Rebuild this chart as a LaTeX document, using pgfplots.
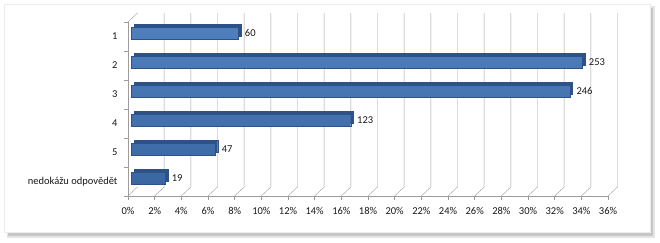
\documentclass[border=0pt]{standalone}
\usepackage{pgfplots}
\pgfplotsset{compat=1.18}
\usepackage{pgfplotstable}
\usepackage{fontspec}
\setmainfont{Carlito}
\definecolor{bartop}{HTML}{4F7FBD}
\definecolor{barbot}{HTML}{3A67A2}
\definecolor{barside}{HTML}{2E5288}
\definecolor{gridc}{HTML}{9C9C9C}
\pgfplotstableread{
idx pct count
0 8.02 60
1 33.82 253
2 32.89 246
3 16.44 123
4 6.28 47
5 2.54 19
}\datatab
\begin{document}
\begin{tikzpicture}[x=1bp,y=1bp]
\useasboundingbox (0,0) rectangle (660,242);
\fill[gray!20] (7,4) rectangle (655,236);
\fill[gray!45] (8,6) rectangle (653,234);
\fill[white] (4,10) rectangle (650,238);
\draw[gray!15] (4,10) rectangle (650,238);
\begin{axis}[
 at={(128bp,46bp)}, anchor=south west,
 scale only axis, width=480bp, height=174bp,
 xmin=0, xmax=36, ymin=-0.5, ymax=5.5, y dir=reverse,
 axis x line*=bottom, axis y line*=left,
 axis line style={gridc, -},
 font=\fontsize{10.5bp}{12bp}\selectfont,
 /pgf/number format/assume math mode=true,
 xtick={0,2,...,36},
 xticklabel={\pgfmathprintnumber{\tick}\%},
 xticklabel style={yshift=-4bp},
 ytick={-0.5,0.5,...,5.5},
 yticklabels={},
 extra y ticks={0,1,2,3,4,5},
 extra y tick labels={1,2,3,4,5,nedokážu odpovědět},
 extra y tick style={major tick length=0pt, yticklabel style={anchor=east, xshift=-7bp}},
 tick align=outside, tick pos=left,
 major tick length=4bp,
 tick style={gridc, thin},
 every tick label/.append style={text=black!90},
 clip=false,
]
\pgfplotsinvokeforeach{2,4,...,36}{
 \draw[gridc] (axis cs:#1,5.5) -- ++(9.5bp,9bp) -- ([xshift=9.5bp,yshift=9bp]axis cs:#1,-0.5);
}
\draw[gridc] (axis cs:0,5.5) -- ++(9.5bp,9bp);
\draw[gridc] (axis cs:0,-0.5) -- ++(9.5bp,9bp);
\addplot[xbar, bar shift=0pt, bar width=12bp, fill=barside, draw=barside, xshift=6bp, yshift=6bp]
 table[x=pct, y=idx] {\datatab};
\addplot[xbar, bar shift=0pt, bar width=12bp, draw=barside, top color=bartop, bottom color=barbot, xshift=3.5bp, yshift=3.5bp,
 nodes near coords, point meta=explicit symbolic,
 nodes near coords style={anchor=west, text=black!90, font=\fontsize{10.5bp}{12bp}\selectfont, xshift=3bp}]
 table[x=pct, y=idx, meta=count] {\datatab};
\end{axis}
\end{tikzpicture}
\end{document}
